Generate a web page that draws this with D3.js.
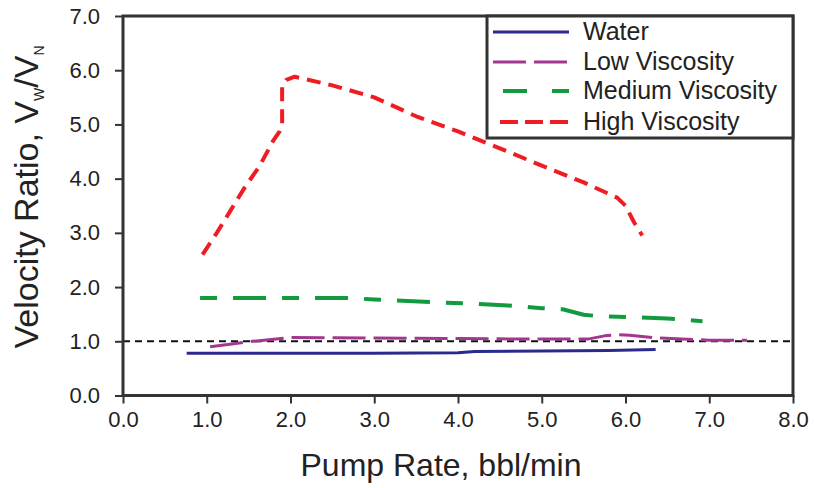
<!DOCTYPE html>
<html><head><meta charset="utf-8">
<script src="https://cdn.jsdelivr.net/npm/d3@7"></script>
<style>
html,body{margin:0;padding:0;background:#fff;}
svg text{font-family:"Liberation Sans",Arial,sans-serif;fill:#222;}
</style></head>
<body><svg id="c" width="814" height="488"></svg>
<script>
const xTicks = [0,1,2,3,4,5,6,7,8];
const yTicks = [0,1,2,3,4,5,6,7];
const seriesNames = ["Water","Low Viscosity","Medium Viscosity","High Viscosity"];
const water = [[0.76,0.78],[2.0,0.78],[3.0,0.78],[4.0,0.79],[4.2,0.81],[5.0,0.82],[5.8,0.83],[6.36,0.85]];
const lowVisc = [[1.04,0.9],[1.3,0.95],[1.55,1.0],[2.0,1.07],[3.0,1.06],[4.0,1.05],[5.0,1.04],[5.55,1.04],[5.75,1.1],[5.9,1.12],[6.05,1.11],[6.4,1.06],[7.0,1.02],[7.45,1.02]];
const medVisc = [[0.92,1.8],[1.5,1.8],[2.0,1.8],[2.7,1.8],[3.0,1.77],[3.6,1.73],[4.2,1.69],[4.6,1.66],[5.0,1.61],[5.25,1.59],[5.5,1.49],[5.7,1.46],[6.0,1.45],[6.5,1.42],[6.92,1.37]];
const highVisc = [[0.95,2.6],[1.12,3.0],[1.28,3.4],[1.45,3.83],[1.63,4.23],[1.79,4.69],[1.87,4.87],[1.9,5.0],[1.9,5.7],[1.95,5.82],[2.05,5.88],[2.5,5.72],[3.0,5.5],[3.5,5.15],[4.0,4.87],[4.5,4.56],[5.0,4.24],[5.5,3.93],[5.9,3.65],[6.0,3.5],[6.1,3.2],[6.2,2.95]];
const refLine = 1.0;

const colors = ["#2b2a8c","#a3378f","#139a3f","#ee1d23"];
const dashes = [null,"33,8","17,16,33,16","14,8"];
const widths = [3,3,4,4];
const legendDash = [null,"33,8","24,25","18,7"];
const legendStart = [493,493,503,500];

const svg = d3.select("#c");
const L=123, R=793, T=16, B=395.5;
const x = d3.scaleLinear().domain([0,8]).range([L,R]);
const y = d3.scaleLinear().domain([0,7]).range([B,T]);

// reference dashed line
svg.append("line").attr("x1",x(0)).attr("x2",x(8)).attr("y1",y(refLine)).attr("y2",y(refLine))
  .attr("stroke","#111").attr("stroke-width",2).attr("stroke-dasharray","7,5");

const line = d3.line().x(d=>x(d[0])).y(d=>y(d[1]));
[water,lowVisc,medVisc,highVisc].forEach((s,i)=>{
  svg.append("path").attr("d",line(s)).attr("fill","none")
    .attr("stroke",colors[i]).attr("stroke-width",widths[i])
    .attr("stroke-dasharray",dashes[i]).attr("stroke-linejoin","round");
});

// axes
const xa = svg.append("g").attr("transform",`translate(0,${B})`)
  .call(d3.axisBottom(x).tickValues(xTicks).tickFormat(d3.format(".1f")).tickSize(8).tickPadding(8));
const ya = svg.append("g").attr("transform",`translate(${L},0)`)
  .call(d3.axisLeft(y).tickValues(yTicks).tickFormat(d3.format(".1f")).tickSize(8).tickPadding(15));
[xa,ya].forEach(a=>{
  a.select(".domain").remove();
  a.selectAll(".tick line").attr("stroke","#333").attr("stroke-width",2);
  a.selectAll(".tick text").style("font-size","22px").attr("fill","#222");
});
// frame
svg.append("rect").attr("x",L).attr("y",T).attr("width",R-L).attr("height",B-T)
  .attr("fill","none").attr("stroke","#333").attr("stroke-width",3);

// legend
const lg = svg.append("g");
lg.append("rect").attr("x",487).attr("y",T).attr("width",R-487).attr("height",138-T)
  .attr("fill","#fff").attr("stroke","#333").attr("stroke-width",3);
const rows=[32,62,91,122];
seriesNames.forEach((n,i)=>{
  lg.append("line").attr("x1",legendStart[i]).attr("x2",569).attr("y1",rows[i]).attr("y2",rows[i])
    .attr("stroke",colors[i]).attr("stroke-width",widths[i]).attr("stroke-dasharray",legendDash[i]);
  lg.append("text").attr("x",583).attr("y",rows[i]+8).style("font-size","25px").text(n);
});

// titles
svg.append("text").attr("x",441).attr("y",476).attr("text-anchor","middle")
  .style("font-size","32px").text("Pump Rate, bbl/min");
const yt = svg.append("text").attr("transform","translate(38,197) rotate(-90)")
  .attr("text-anchor","middle").style("font-size","34px");
yt.append("tspan").text("Velocity Ratio, V");
yt.append("tspan").attr("dy",6).style("font-size","14px").text("W");
yt.append("tspan").attr("dy",-6).text("/V");
yt.append("tspan").attr("dy",6).style("font-size","14px").text("N");
</script></body></html>
